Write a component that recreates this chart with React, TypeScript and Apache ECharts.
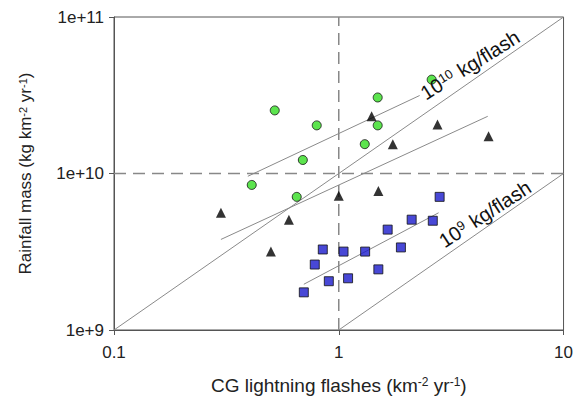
import React, { useEffect, useRef } from "react";
import * as echarts from "echarts";

const greenCircles: [number, number][] = [
  [0.519, 2.53e10], [1.49, 3.06e10], [0.798, 2.03e10], [1.49, 2.03e10],
  [1.305, 1.54e10], [0.692, 1.22e10], [0.41, 8.45e9], [0.65, 7.09e9], [2.59, 3.98e10],
];
const blackTriangles: [number, number][] = [
  [0.299, 5.61e9], [0.6, 5.07e9], [0.499, 3.17e9], [1.0, 7.2e9], [1.5, 7.74e9],
  [1.4, 2.32e10], [1.74, 1.54e10], [2.75, 2.06e10], [4.64, 1.73e10],
];
const blueSquares: [number, number][] = [
  [2.81, 7.09e9], [2.11, 5.07e9], [2.62, 4.99e9], [1.65, 4.38e9], [0.849, 3.27e9],
  [1.05, 3.17e9], [1.31, 3.17e9], [1.89, 3.37e9], [0.782, 2.62e9], [1.5, 2.44e9],
  [0.903, 2.05e9], [1.1, 2.14e9], [0.699, 1.74e9],
];
const greenFit: [number, number][] = [[0.394, 9.6e9], [2.29, 3.15e10]];
const blackFit: [number, number][] = [[0.299, 3.79e9], [4.6, 2.32e10]];
const blueFit: [number, number][] = [[0.699, 1.96e9], [2.78, 5.61e9]];
const line1e10: [number, number][] = [[0.1, 1e9], [10, 1e11]];
const line1e9: [number, number][] = [[1, 1e9], [10, 1e10]];
const vDash: [number, number][] = [[1, 1e9], [1, 1e11]];
const hDash: [number, number][] = [[0.1, 1e10], [10, 1e10]];
const yTickLabels: Record<string, string> = { "1000000000": "1e+9", "10000000000": "1e+10", "100000000000": "1e+11" };

const FONT = "'Liberation Sans', Arial, sans-serif";

export default function App() {
  const ref = useRef<HTMLDivElement>(null);
  useEffect(() => {
    const chart = echarts.init(ref.current!, null, { renderer: "svg" });
    const lineS = (data: [number, number][], color = "#8a8a8a", type: any = "solid", width = 1) => ({
      type: "line",
      data,
      symbol: "none",
      silent: true,
      lineStyle: { color, width, type },
      z: 1,
    });
    const annoRich = {
      b: { fontSize: 20, fontFamily: FONT, fill: "#111" },
      s: { fontSize: 13, fontFamily: FONT, fill: "#111", verticalAlign: "top" },
    };
    chart.setOption({
      animation: false,
      backgroundColor: "#fff",
      textStyle: { fontFamily: FONT },
      grid: {
        left: 114, right: 12, top: 17, bottom: 68,
        show: true, borderColor: "#555", borderWidth: 1,
      },
      xAxis: {
        type: "log", logBase: 10, min: 0.1, max: 10,
        splitLine: { show: false },
        minorTick: { show: false },
        axisLine: { lineStyle: { color: "#555", width: 1 } },
        axisTick: { inside: false, length: 5, lineStyle: { color: "#555" } },
        axisLabel: { color: "#222", fontSize: 17, margin: 14, fontFamily: FONT },
        name: "CG lightning flashes (km{sup|-2} yr{sup|-1})",
        nameLocation: "middle",
        nameGap: 46,
        nameTextStyle: {
          color: "#222", fontSize: 19, fontFamily: FONT,
          rich: { sup: { fontSize: 12, verticalAlign: "top", color: "#222", fontFamily: FONT } },
        },
      },
      yAxis: {
        type: "log", logBase: 10, min: 1e9, max: 1e11,
        splitLine: { show: false },
        minorTick: { show: false },
        axisLine: { lineStyle: { color: "#555", width: 1 } },
        axisTick: { inside: false, length: 5, lineStyle: { color: "#555" } },
        axisLabel: {
          color: "#222", fontSize: 17, margin: 10, fontFamily: FONT,
          formatter: (v: number) => yTickLabels[String(Math.round(v))] ?? "1e+" + Math.round(Math.log10(v)),
        },
        name: "Rainfall mass (kg km{sup|-2} yr{sup|-1})",
        nameLocation: "middle",
        nameGap: 80,
        nameTextStyle: {
          color: "#222", fontSize: 17, fontFamily: FONT,
          rich: { sup: { fontSize: 11, verticalAlign: "top", color: "#222", fontFamily: FONT } },
        },
      },
      series: [
        lineS(vDash, "#888", [12, 7], 1.5),
        lineS(hDash, "#888", [12, 7], 1.5),
        lineS(line1e10),
        lineS(line1e9),
        lineS(greenFit),
        lineS(blackFit),
        lineS(blueFit),
        {
          type: "scatter", data: greenCircles, symbol: "circle", symbolSize: 9, z: 3,
          itemStyle: { color: "#33dd22", borderColor: "#111", borderWidth: 1 },
        },
        {
          type: "scatter", data: blackTriangles, symbol: "triangle", symbolSize: 10, z: 3,
          itemStyle: { color: "#000" },
        },
        {
          type: "scatter", data: blueSquares, symbol: "rect", symbolSize: 9, z: 3,
          itemStyle: { color: "#1a1acc", borderColor: "#111", borderWidth: 1 },
        },
      ],
      graphic: [
        {
          type: "text", x: 470, y: 65, rotation: (32 * Math.PI) / 180, z: 10,
          style: {
            text: "{b|10}{s|10}  {b|kg/flash}",
            align: "center", verticalAlign: "middle",
            fill: "#111", fontFamily: FONT,
            rich: annoRich,
          },
        },
        {
          type: "text", x: 485, y: 214, rotation: (33 * Math.PI) / 180, z: 10,
          style: {
            text: "{b|10}{s|9}  {b|kg/flash}",
            align: "center", verticalAlign: "middle",
            fill: "#111", fontFamily: FONT,
            rich: annoRich,
          },
        },
      ],
    });
    return () => chart.dispose();
  }, []);
  return <div ref={ref} style={{ width: 576, height: 400, position: "absolute", left: 0, top: 0 }} />;
}
